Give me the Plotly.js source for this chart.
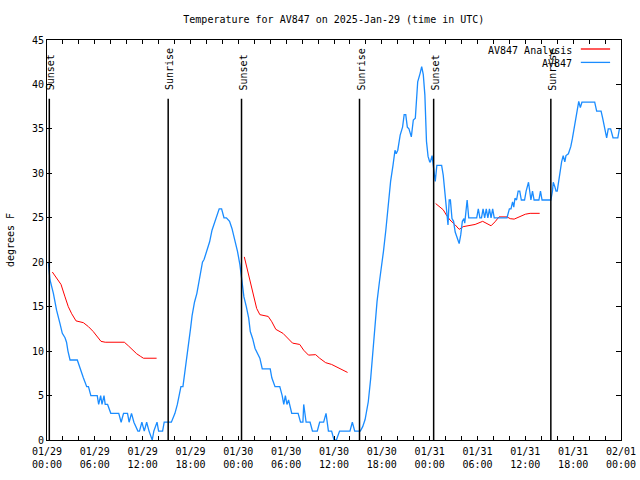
<!DOCTYPE html>
<html>
<head>
<meta charset="utf-8">
<script src="https://cdn.plot.ly/plotly-3.0.1.min.js"></script>
<style>html,body{margin:0;padding:0;background:#fff}#chart{width:640px;height:480px}</style>
</head>
<body>
<div id="chart"></div>
<script>
// ---- data (hours after 2025-01-29 00:00 UTC) ----
const obsHours = [0.17,0.38,0.8,1.2,1.63,1.92,2.26,2.45,2.63,2.89,3.8,4.14,4.56,4.98,5.2,5.5,6.3,6.48,6.73,6.9,7.15,7.3,7.6,8.0,9.0,9.3,9.6,10.1,10.3,10.6,10.9,11.4,11.6,11.9,12.2,12.5,12.8,13.2,13.4,13.8,14.0,14.5,14.7,15.6,15.85,16.05,16.35,16.56,16.8,17.05,17.2,17.4,17.6,17.85,18.0,18.2,18.5,18.8,19.1,19.3,19.5,19.7,20.0,20.4,20.7,21.0,21.3,21.6,21.9,22.2,22.5,22.9,23.2,23.5,23.9,24.2,24.4,24.5,24.7,25.0,25.3,25.5,25.8,26.1,26.4,26.7,27.0,28.0,28.2,28.6,29.2,29.5,29.7,29.9,30.1,30.3,30.7,31.5,31.8,32.1,32.2,32.5,33.0,33.3,33.9,34.2,34.7,35.0,35.3,35.7,36.0,36.3,36.7,38.0,38.3,38.6,39.3,39.6,39.9,40.1,40.3,40.6,40.85,41.1,41.4,41.7,42.0,42.2,42.5,42.8,43.1,43.4,43.65,43.8,44.0,44.3,44.6,44.8,45.0,45.2,45.4,45.7,45.95,46.2,46.5,46.8,47.0,47.2,47.4,47.6,47.8,48.0,48.1,48.3,48.5,48.7,48.9,49.5,49.7,49.9,50.1,50.3,50.45,50.6,50.8,51.0,51.2,51.5,51.7,51.9,52.1,52.3,52.4,52.7,52.9,53.9,54.1,54.3,54.5,54.7,54.9,55.1,55.3,55.5,55.7,55.9,56.1,57.7,58.0,58.2,58.4,58.55,58.7,58.9,59.1,59.3,59.5,59.9,60.1,60.4,60.55,60.7,60.9,61.1,61.7,61.9,62.1,63.2,63.4,63.5,63.7,63.85,64.0,64.2,64.4,64.55,64.75,64.95,65.1,65.4,65.7,65.9,66.1,66.3,66.5,66.7,66.9,67.1,67.4,68.7,68.95,69.5,69.7,69.95,70.2,70.4,70.7,71.0,71.6,71.8,72.0];
const obsTemp = [20,18,16.5,14.6,13.1,12,11.5,11,10,9,9,8,7,6,6,5,5,4,5,4,5,4,4,3,3,2,3,3,2,3,2,1,1,2,1,2,1,0,1,2,1,1,2,2,2.6,3,4,5,6,6,7,8,9.5,11,12.5,14,15.5,16.5,18,19,20,20.3,21.2,22.3,23.6,24.4,25.1,26,26,25,25,24.6,23.8,22.7,21.2,19.7,18.4,17.2,16.1,15,13.7,12.2,11.4,10.3,9.8,9.2,8,8,7,6,6,5,4,5,4,4.5,3,3,2,2,4,2,2,1,1,2,2,3,1,1,0,0,1,1,2,1,1,1.5,2.3,3.4,4.3,6.9,9.6,12.6,15.6,17.8,19.7,21.2,23.6,26.8,29.1,30.9,32.6,32.2,32.6,34.3,35.2,36.6,36.6,35.2,35,34.1,36,36.2,40.3,41.25,42,41.1,38.8,33.6,31.9,31.3,31.3,32,30.6,29.1,30.9,30.9,29.8,27.75,26.2,24.2,27,27,24.9,24.6,23.4,22.7,22.1,23.1,24.6,24.9,24.4,27,25,25,26,25,25,26,25,26,25,26,25,26,25,25,26,26,26.8,26.2,27.2,27,28,28,27,27,28,29,28,27,28,27,27,28,27,27,28,29,28.5,28,28,29,30.4,31.3,32,31.3,32,32.2,33,33.9,34.9,35.8,37.1,38.1,37.4,38,38,38,37,37,36.2,35.1,34,35,35,34,34,35,35];

const anaHours = [0.67,1.42,1.76,2.26,2.67,3.1,3.64,4.56,5.2,5.8,6.36,6.77,7.3,9.7,10.2,10.8,11.25,11.75,12.1,13.75,null,24.75,25.25,25.8,26.3,26.7,27.75,28.2,28.7,29.6,30.2,30.8,31.7,32.2,32.8,33.7,34.2,34.95,35.7,36.3,37.2,37.7,null,48.75,49.3,49.7,50.1,50.55,51.2,51.7,52.2,53.1,53.7,54.65,55.15,55.7,56.2,56.7,57.7,58.1,58.6,59.2,60.0,60.6,61.8];
const anaTemp = [18.9,18,17.5,16.1,15,14.2,13.4,13.2,12.75,12.2,11.5,11.1,11,11,10.6,10.05,9.7,9.4,9.2,9.2,null,20.6,18.75,16.5,14.8,14.1,13.9,13.3,12.45,12,11.4,10.9,10.75,10.1,9.55,9.6,9.2,8.7,8.5,8.25,7.9,7.6,null,26.6,26.25,25.9,25.3,24.75,24.2,23.7,24.0,24.1,24.25,24.6,24.4,24.1,24.55,25.1,25.1,24.9,24.85,25.1,25.4,25.5,25.5];

const sunHours = [0.29,15.2,24.4,39.2,48.5,63.2];
const sunLabels = ['Sunset','Sunrise','Sunset','Sunrise','Sunset','Sunrise'];
const sunLineTop = 38.4;

const tickHours = [0,6,12,18,24,30,36,42,48,54,60,66,72];
const tickLabels = ['01/29<br>00:00','01/29<br>06:00','01/29<br>12:00','01/29<br>18:00','01/30<br>00:00','01/30<br>06:00','01/30<br>12:00','01/30<br>18:00','01/31<br>00:00','01/31<br>06:00','01/31<br>12:00','01/31<br>18:00','02/01<br>00:00'];

const seriesNames = ['AV847 Analysis','AV847'];
const titleText = 'Temperature for AV847 on 2025-Jan-29 (time in UTC)';
const yTitle = 'degrees F';

// ---- helpers ----
const BASE = Date.UTC(2025,0,29,0,0,0);
function pad(n){return (n<10?'0':'')+n;}
function toDate(h){
  if(h===null) return null;
  const d = new Date(BASE + Math.round(h*3600000));
  return d.getUTCFullYear()+'-'+pad(d.getUTCMonth()+1)+'-'+pad(d.getUTCDate())+' '+pad(d.getUTCHours())+':'+pad(d.getUTCMinutes())+':'+pad(d.getUTCSeconds());
}

const FONT = '"DejaVu Sans Mono", "Liberation Mono", monospace';
const RED = '#ff0000';
const BLUE = '#1a8cff';

const traces = [
  {x: anaHours.map(toDate), y: anaTemp, name: seriesNames[0], mode:'lines', line:{color:RED, width:1}, connectgaps:false, showlegend:false, hoverinfo:'skip'},
  {x: obsHours.map(toDate), y: obsTemp, name: seriesNames[1], mode:'lines', line:{color:BLUE, width:1.3}, showlegend:false, hoverinfo:'skip'}
];

const shapes = sunHours.map(h => ({type:'line', xref:'x', yref:'y', x0:toDate(h), x1:toDate(h), y0:0, y1:sunLineTop, line:{color:'#000', width:1.5}}));
// legend samples
shapes.push({type:'line', xref:'paper', yref:'paper', x0:0.930, x1:0.981, y0:0.9775, y1:0.9775, line:{color:RED, width:1.3}});
shapes.push({type:'line', xref:'paper', yref:'paper', x0:0.930, x1:0.981, y0:0.944, y1:0.944, line:{color:BLUE, width:1.3}});

const annotations = sunHours.map((h,i) => ({x:toDate(h), y:39.1, xref:'x', yref:'y', text:sunLabels[i], textangle:-90, showarrow:false, xanchor:'center', yanchor:'bottom', xshift:1.5, font:{family:FONT, size:10, color:'#000'}}));
annotations.push({x:0.918, y:0.9775, xref:'paper', yref:'paper', text:seriesNames[0], showarrow:false, xanchor:'right', yanchor:'middle', yshift:-1.5, font:{family:FONT, size:10, color:'#000'}});
annotations.push({x:0.918, y:0.944, xref:'paper', yref:'paper', text:seriesNames[1], showarrow:false, xanchor:'right', yanchor:'middle', yshift:-1.5, font:{family:FONT, size:10, color:'#000'}});

const layout = {
  width:640, height:480,
  margin:{l:47, r:19, t:40, b:40},
  paper_bgcolor:'#fff', plot_bgcolor:'#fff',
  font:{family:FONT, size:10, color:'#000'},
  title:{text:titleText, font:{family:FONT, size:10, color:'#000'}, x:0.5216, xref:'container', xanchor:'center', y:0.96, yref:'container', yanchor:'middle'},
  xaxis:{
    type:'date', range:[toDate(0), toDate(72)],
    tickmode:'array', tickvals:tickHours.map(toDate), ticktext:tickLabels,
    ticks:'inside', ticklen:4, tickwidth:1, tickcolor:'#000',
    minor:{dtick:7200000, tick0:toDate(0), ticks:'inside', ticklen:4, tickwidth:1, tickcolor:'#000', showgrid:false},
    showline:true, linecolor:'#000', linewidth:1, mirror:'allticks',
    ticklabelstandoff:2,
    showgrid:false, zeroline:false, tickfont:{family:FONT, size:10, color:'#000'}, fixedrange:true
  },
  yaxis:{
    range:[0,45], tick0:0, dtick:5, tickmode:'linear',
    ticks:'inside', ticklen:5, tickwidth:1, tickcolor:'#000',
    showline:true, linecolor:'#000', linewidth:1, mirror:'allticks',
    showgrid:false, zeroline:false, tickfont:{family:FONT, size:10, color:'#000'},
    title:{text:yTitle, font:{family:FONT, size:10, color:'#000'}, standoff:15},
    fixedrange:true
  },
  shapes:shapes, annotations:annotations
};

Plotly.newPlot('chart', traces, layout, {displayModeBar:false, staticPlot:true});
</script>
</body>
</html>
